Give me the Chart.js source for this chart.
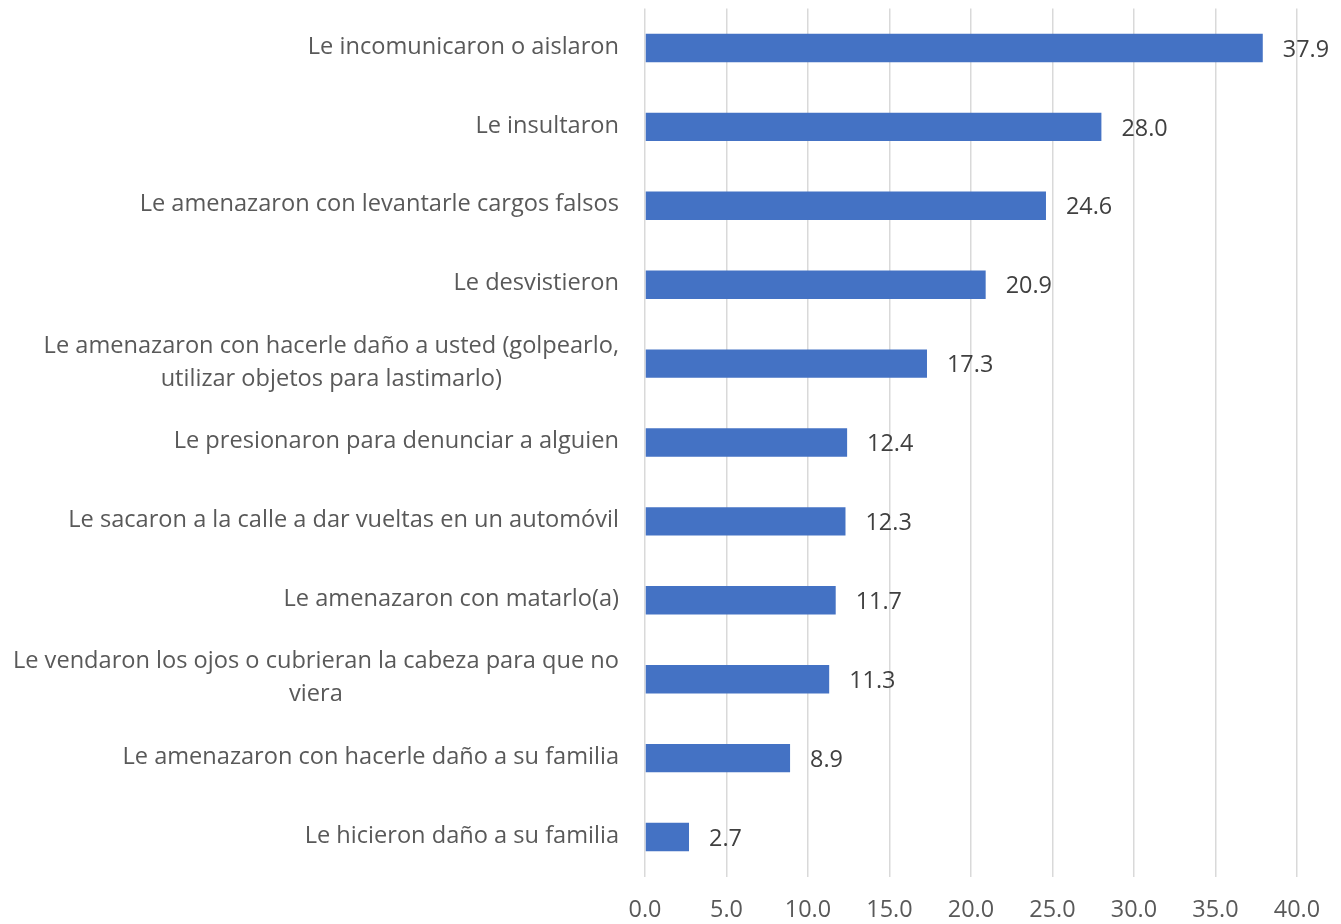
<!DOCTYPE html>
<html>
<head>
<meta charset="utf-8">
<script src="https://cdn.jsdelivr.net/npm/chart.js@4/dist/chart.umd.min.js"></script>
<style>
  html, body { margin: 0; padding: 0; background: #fff; }
  #wrap { width: 1341px; height: 924px; }
</style>
</head>
<body>
<div id="wrap"><canvas id="myChart"></canvas></div>
<script>
// categories (multi-line ones as arrays of lines)
const categories = [
    ['Le incomunicaron o aislaron'],
    ['Le insultaron'],
    ['Le amenazaron con levantarle cargos falsos'],
    ['Le desvistieron'],
    ['Le amenazaron con hacerle daño a usted (golpearlo,', 'utilizar objetos para lastimarlo)'],
    ['Le presionaron para denunciar a alguien'],
    ['Le sacaron a la calle a dar vueltas en un automóvil'],
    ['Le amenazaron con matarlo(a)'],
    ['Le vendaron los ojos o cubrieran la cabeza para que no', 'viera'],
    ['Le amenazaron con hacerle daño a su familia'],
    ['Le hicieron daño a su familia']
]
const values = [37.9, 28.0, 24.6, 20.9, 17.3, 12.4, 12.3, 11.7, 11.3, 8.9, 2.7]
const xMin = 0
const xMax = 40
const xStep = 5

const FONT = '"Open Sans", sans-serif'
const FSIZE = 23.6

// y labels: right aligned block, lines centered inside the block
const yLabelsPlugin = {
    id: 'yLabels',
    afterDraw(chart) {
        const ctx = chart.ctx
        const y = chart.scales.y
        const right = chart.chartArea.left - 26
        ctx.save()
        ctx.font = FSIZE + 'px ' + FONT
        ctx.fillStyle = '#595959'
        ctx.textAlign = 'center'
        ctx.textBaseline = 'middle'
        categories.forEach((lines, i) => {
            const maxW = Math.max(...lines.map(l => ctx.measureText(l).width))
            const cx = right - maxW / 2
            const cy = y.getPixelForValue(i) - 1
            const lh = 33
            lines.forEach((l, j) => {
                ctx.fillText(l, cx, cy + (j - (lines.length - 1) / 2) * lh)
            })
        })
        ctx.restore()
    }
}

const valueLabelsPlugin = {
    id: 'valueLabels',
    afterDatasetsDraw(chart) {
        const ctx = chart.ctx
        const meta = chart.getDatasetMeta(0)
        ctx.save()
        ctx.font = '23.4px ' + FONT
        ctx.fillStyle = '#404040'
        ctx.textAlign = 'left'
        ctx.textBaseline = 'middle'
        meta.data.forEach((bar, i) => {
            ctx.fillText(values[i].toFixed(1), bar.x + 20, bar.y + 2)
        })
        ctx.restore()
    }
}

const ctx = document.getElementById('myChart').getContext('2d')
new Chart(ctx, {
    type: 'bar',
    data: {
        labels: categories.map(c => c.join(' ')),
        datasets: [{
            data: values,
            backgroundColor: '#4472C4',
            borderWidth: 0,
            barPercentage: 0.36,
            categoryPercentage: 1
        }]
    },
    options: {
        indexAxis: 'y',
        responsive: true,
        maintainAspectRatio: false,
        animation: false,
        layout: { padding: { top: 8.5, right: 44, bottom: 0, left: 0 } },
        plugins: {
            legend: { display: false },
            tooltip: { enabled: false }
        },
        scales: {
            x: {
                min: xMin,
                max: xMax,
                border: { display: false },
                grid: { color: '#d9d9d9', lineWidth: 1.5, drawTicks: false },
                ticks: {
                    stepSize: xStep,
                    padding: 20,
                    color: '#595959',
                    font: { family: FONT, size: 23.4 },
                    callback: v => Number(v).toFixed(1)
                },
                afterFit: s => { s.height = 47.5 }
            },
            y: {
                border: { display: false },
                grid: { display: false },
                ticks: { display: false },
                afterFit: s => { s.width = 645 }
            }
        }
    },
    plugins: [yLabelsPlugin, valueLabelsPlugin]
})
</script>
</body>
</html>
